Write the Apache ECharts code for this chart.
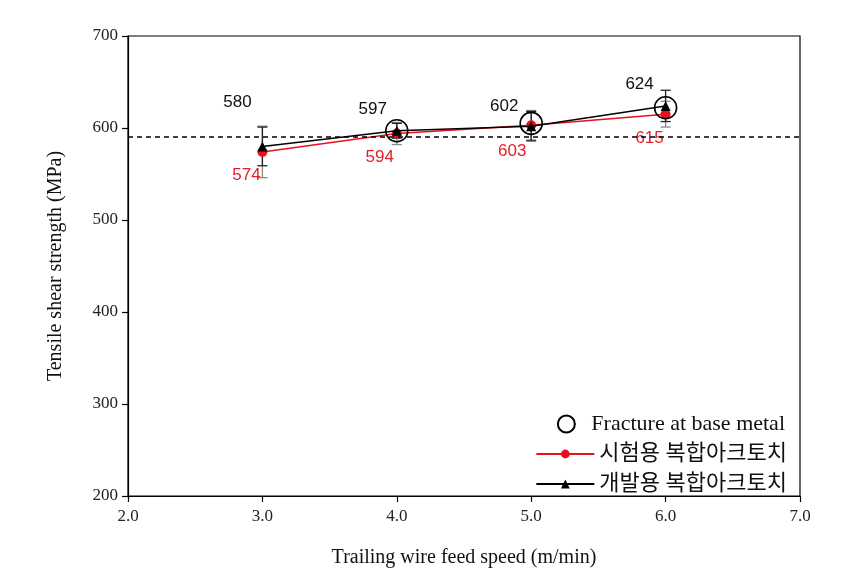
<!DOCTYPE html>
<html><head><meta charset="utf-8">
<script src="https://cdn.jsdelivr.net/npm/echarts@6/dist/echarts.min.js"></script>
<style>html,body{margin:0;padding:0;background:#fff}#c{width:854px;height:585px}</style>
</head><body><div id="c"></div>
<script>
const speeds = [3.0, 4.0, 5.0, 6.0];
const testTorch = [574, 594, 603, 615];        // 시험용 복합아크토치 (red)
const testTorchErr = [28, 12, 16, 14];
const devTorch = [580, 597, 602, 624];         // 개발용 복합아크토치 (black)
const devTorchErr = [21, 8, 16, 17];
const fractureX = [4.0, 5.0, 6.0];
const fractureY = [597, 605, 622];
const referenceLine = 590;
const yTicks = [200, 300, 400, 500, 600, 700];
const xTicks = [2.0, 3.0, 4.0, 5.0, 6.0, 7.0];

const nameFracture = 'Fracture at base metal';
const nameTest = '시험용 복합아크토치';
const nameDev = '개발용 복합아크토치';

const serif = "'Liberation Serif','Times New Roman',serif";
const legendFont = "'Liberation Serif','Noto Sans CJK KR',serif";
const sans = "'Liberation Sans',Arial,sans-serif";

const devOffsets = [[-25,-31],[-24,-8],[-27,-6],[-26,-8]];
const testOffsets = [[-16,10],[-17,10],[-19,13],[-16,11]];

function errSeries(name, ys, errs, color, z) {
  return {
    type: 'custom', name: name + '_err', z: z, silent: true,
    data: speeds.map((x, i) => [x, ys[i], errs[i]]),
    renderItem: function (params, api) {
      const x = api.value(0), y = api.value(1), e = api.value(2);
      const top = api.coord([x, y + e]);
      const bot = api.coord([x, y - e]);
      const w = 5;
      const st = { stroke: color, lineWidth: 1.3 };
      return { type: 'group', children: [
        { type: 'line', shape: { x1: top[0], y1: top[1], x2: bot[0], y2: bot[1] }, style: st },
        { type: 'line', shape: { x1: top[0]-w, y1: top[1], x2: top[0]+w, y2: top[1] }, style: st },
        { type: 'line', shape: { x1: bot[0]-w, y1: bot[1], x2: bot[0]+w, y2: bot[1] }, style: st }
      ]};
    }
  };
}

const chart = echarts.init(document.getElementById('c'), null, { renderer: 'canvas' });
chart.setOption({
  animation: false,
  backgroundColor: '#fff',
  grid: { left: 128, right: 54, top: 36, bottom: 89, show: true, borderColor: '#000', borderWidth: 1.2, backgroundColor: 'transparent' },
  xAxis: {
    type: 'value', min: xTicks[0], max: xTicks[xTicks.length-1], interval: 1,
    name: 'Trailing wire feed speed (m/min)', nameLocation: 'middle', nameGap: 52,
    nameTextStyle: { fontFamily: serif, fontSize: 20, color: '#111' },
    axisLine: { show: true, lineStyle: { color: '#000', width: 1.2 } },
    axisTick: { show: true, inside: false, length: 6, lineStyle: { color: '#000', width: 1.2 } },
    axisLabel: { fontFamily: serif, fontSize: 17, color: '#222', margin: 12, formatter: v => v.toFixed(1) },
    splitLine: { show: false }
  },
  yAxis: {
    type: 'value', min: yTicks[0], max: yTicks[yTicks.length-1], interval: 100,
    name: 'Tensile shear strength (MPa)', nameLocation: 'middle', nameGap: 62,
    nameTextStyle: { fontFamily: serif, fontSize: 20, color: '#111' },
    axisLine: { show: true, lineStyle: { color: '#000', width: 1.2 } },
    axisTick: { show: true, inside: false, length: 6, lineStyle: { color: '#000', width: 1.2 } },
    axisLabel: { fontFamily: serif, fontSize: 17, color: '#222', margin: 10 },
    splitLine: { show: false }
  },
  legend: [
    { data: [nameFracture], orient: 'vertical', right: 64, top: 408, itemWidth: 40, itemHeight: 17, itemGap: 8,
      textStyle: { fontFamily: legendFont, fontSize: 22, color: '#111' } },
    { data: [nameTest, nameDev], orient: 'vertical', right: 62, top: 438, itemWidth: 58, itemHeight: 11, itemGap: 8,
      textStyle: { fontFamily: legendFont, fontSize: 22, color: '#111' } }
  ],
  series: [
    errSeries(nameTest, testTorch, testTorchErr, '#8a8a8a', 2),
    errSeries(nameDev, devTorch, devTorchErr, '#222', 3),
    {
      name: nameTest, type: 'line', z: 4,
      data: speeds.map((x, i) => ({ value: [x, testTorch[i]],
        label: { show: true, position: 'bottom', distance: 0, offset: testOffsets[i], color: '#e0202a', fontFamily: sans, fontSize: 17 } })),
      symbol: 'circle', symbolSize: 10,
      lineStyle: { color: '#e8101c', width: 1.5 }, itemStyle: { color: '#e8101c' },
      label: { formatter: p => p.value[1] },
      markLine: { silent: true, symbol: 'none', label: { show: false },
        lineStyle: { color: '#000', type: [5, 4], width: 1.6 },
        data: [{ yAxis: referenceLine }] }
    },
    {
      name: nameDev, type: 'line', z: 5,
      data: speeds.map((x, i) => ({ value: [x, devTorch[i]],
        label: { show: true, position: 'top', distance: 0, offset: devOffsets[i], color: '#111', fontFamily: sans, fontSize: 17 } })),
      symbol: 'triangle', symbolSize: 10,
      lineStyle: { color: '#000', width: 1.5 }, itemStyle: { color: '#000' },
      label: { formatter: p => p.value[1] }
    },
    {
      name: nameFracture, type: 'scatter', z: 6,
      data: fractureX.map((x, i) => [x, fractureY[i]]),
      symbol: 'circle', symbolSize: 22,
      itemStyle: { color: 'rgba(0,0,0,0)', borderColor: '#000', borderWidth: 1.6, opacity: 1 }
    }
  ]
});
</script></body></html>
